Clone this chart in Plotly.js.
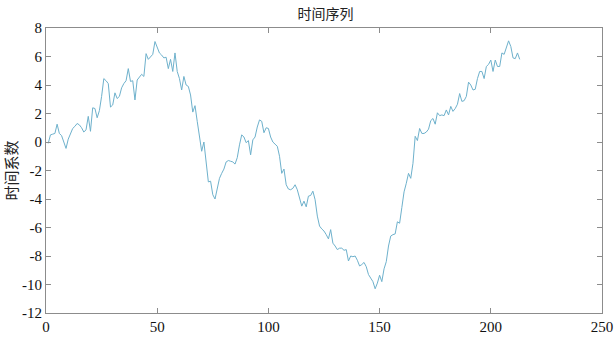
<!DOCTYPE html>
<html>
<head>
<meta charset="utf-8">
<script src="https://cdn.plot.ly/plotly-3.0.1.min.js"></script>
<style>html,body{margin:0;padding:0;background:#fff;}#chart{width:614px;height:341px;}</style>
</head>
<body>
<div id="chart"></div>
<script>
const seriesValues = [
-0.1,0.5,0.55,0.6,1.25,0.6,0.45,0.0,-0.45,0.2,
0.65,0.95,1.1,1.3,1.2,1.0,0.7,0.85,1.8,0.75,
2.4,2.35,1.7,2.2,3.2,4.45,4.3,4.1,2.45,2.6,
3.45,3.05,3.2,3.8,4.1,4.3,5.15,4.25,4.3,2.95,
4.35,4.55,4.75,4.6,6.2,5.8,6.0,6.15,7.05,6.6,
6.25,6.1,5.9,5.95,5.15,5.8,4.95,6.25,4.95,4.45,
3.65,4.6,4.0,3.9,3.3,2.1,2.55,1.45,0.5,-0.65,
0.0,-1.2,-2.8,-2.75,-3.7,-4.0,-3.35,-2.55,-2.2,-1.9,
-1.4,-1.3,-1.35,-1.4,-1.55,-1.1,-0.2,0.5,0.35,-0.05,
0.1,-0.9,0.15,0.35,1.05,1.55,1.45,0.65,1.0,0.95,
0.35,0.0,-0.15,-0.3,-1.0,-2.2,-1.9,-3.0,-3.3,-3.35,
-3.25,-3.0,-3.35,-3.9,-4.5,-4.15,-4.55,-3.8,-3.75,-3.45,
-4.05,-5.2,-5.9,-6.1,-6.25,-6.5,-6.8,-6.15,-7.1,-7.3,
-7.55,-7.45,-7.45,-7.6,-7.55,-8.35,-8.0,-8.05,-8.0,-8.3,
-8.7,-8.6,-8.45,-8.75,-9.3,-9.55,-9.8,-10.3,-9.9,-9.35,
-9.8,-8.9,-8.4,-7.3,-6.6,-6.5,-6.45,-5.6,-5.7,-4.6,
-3.5,-2.9,-2.2,-2.55,-1.5,0.4,0.1,0.95,0.6,0.6,
0.7,0.9,1.5,1.65,1.25,2.05,1.85,1.9,1.85,2.25,
1.9,2.5,2.15,2.35,2.65,3.4,2.85,2.9,3.2,4.2,
4.0,3.65,3.7,4.45,4.95,4.95,4.45,5.3,5.45,5.75,
4.95,5.75,5.3,5.3,6.25,6.15,6.6,7.1,6.7,5.9,
5.85,6.25,5.8
];
const timeIndex = seriesValues.map((v, i) => i + 1);
const xTicks = [0, 50, 100, 150, 200, 250];
const yTicks = [-12, -10, -8, -6, -4, -2, 0, 2, 4, 6, 8];
const chartTitle = '时间序列';
const yTitle = '时间系数';

const axisCommon = {
  showline: true, mirror: 'ticks', linecolor: '#8c8c8c', linewidth: 1,
  ticks: 'inside', ticklen: 5, tickcolor: '#8c8c8c', tickwidth: 1,
  showgrid: false, zeroline: false,
  tickfont: {family: '"Liberation Serif", "Times New Roman", serif', size: 15, color: '#111'}
};

Plotly.newPlot('chart', [{
  x: timeIndex, y: seriesValues, type: 'scatter', mode: 'lines',
  line: {color: '#6eb1cc', width: 1}, hoverinfo: 'skip'
}], {
  width: 614, height: 341,
  margin: {l: 46, r: 12, t: 28, b: 28},
  paper_bgcolor: '#fff', plot_bgcolor: '#fff',
  showlegend: false,
  title: {text: chartTitle, x: 0.53, xanchor: 'center', y: 0.96, yanchor: 'middle',
          font: {family: '"Noto Sans CJK SC", sans-serif', size: 14, color: '#222'}},
  xaxis: Object.assign({}, axisCommon, {range: [0, 250], tickvals: xTicks, ticktext: xTicks.map(String)}),
  yaxis: Object.assign({}, axisCommon, {range: [-12, 8], tickvals: yTicks, ticktext: yTicks.map(String),
    title: {text: yTitle, standoff: 6, font: {family: '"Noto Sans CJK SC", sans-serif', size: 15, color: '#222'}}})
}, {displayModeBar: false, staticPlot: true});
</script>
</body>
</html>
